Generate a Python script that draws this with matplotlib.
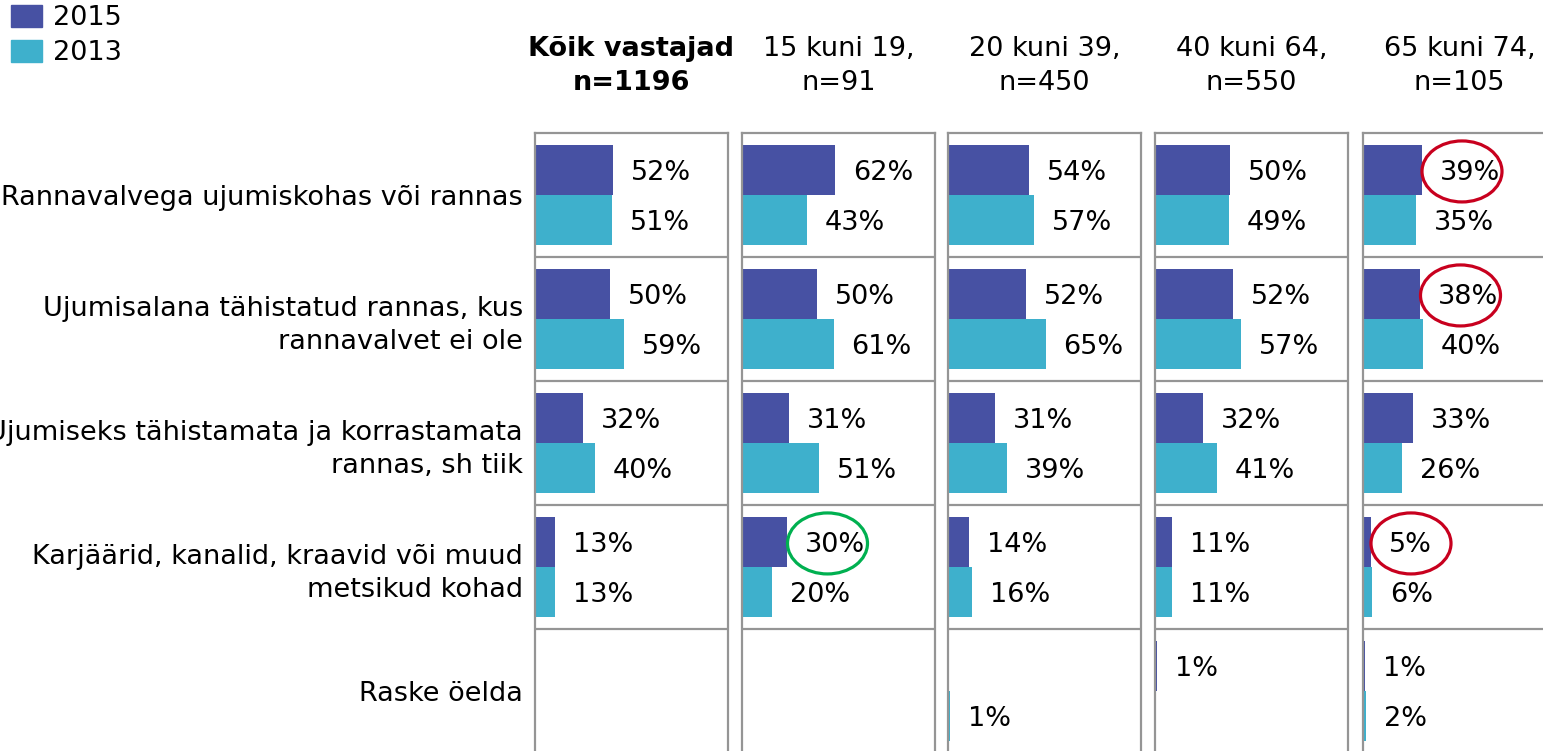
import matplotlib.pyplot as plt
from matplotlib.patches import Ellipse
from matplotlib.patches import Patch
import numpy as np

# ---- data ----
categories = [
    "Rannavalvega ujumiskohas või rannas",
    "Ujumisalana tähistatud rannas, kus\nrannavalvet ei ole",
    "Ujumiseks tähistamata ja korrastamata\nrannas, sh tiik",
    "Karjäärid, kanalid, kraavid või muud\nmetsikud kohad",
    "Raske öelda",
]
groups = ["Kõik vastajad\nn=1196", "15 kuni 19,\nn=91", "20 kuni 39,\nn=450",
          "40 kuni 64,\nn=550", "65 kuni 74,\nn=105"]
series = ["2015", "2013"]

nan = np.nan
values_2015 = [
    [52, 50, 32, 13, nan],
    [62, 50, 31, 30, nan],
    [54, 52, 31, 14, nan],
    [50, 52, 32, 11, 1],
    [39, 38, 33, 5, 1],
]
values_2013 = [
    [51, 59, 40, 13, nan],
    [43, 61, 51, 20, nan],
    [57, 65, 39, 16, 1],
    [49, 57, 41, 11, nan],
    [35, 40, 26, 6, 2],
]
# highlighted 2015 labels: (group index, category index, colour)
highlights = [(1, 3, "#00b050"), (4, 0, "#c8001e"), (4, 1, "#c8001e"), (4, 3, "#c8001e")]

col_2015 = "#4751a3"
col_2013 = "#3eb0cc"
grid_col = "#959595"
fs = 19.5

plt.rcParams["font.family"] = "DejaVu Sans"
fig = plt.figure(figsize=(15.43, 7.51), dpi=100)
W, H = 1543, 751

lefts = [535, 742, 948, 1155, 1363]
panel_w = 193
top_px = 133
row_px = 124
n = len(categories)
xmax = panel_w / 1.5  # 1.5 px per percent

axes = []
for gi, lx in enumerate(lefts):
    ax = fig.add_axes([lx / W, (H - top_px - n * row_px) / H, panel_w / W, n * row_px / H])
    axes.append(ax)
    ax.set_xlim(0, xmax)
    ax.set_ylim(n, 0)
    rows = np.arange(n)
    ax.barh(rows + 0.3, values_2015[gi], height=0.4, color=col_2015, label=series[0])
    ax.barh(rows + 0.7, values_2013[gi], height=0.4, color=col_2013, label=series[1])
    for ri in range(n):
        for v, yy in ((values_2015[gi][ri], ri + 0.3), (values_2013[gi][ri], ri + 0.7)):
            if np.isnan(v):
                continue
            ax.annotate(f"{v:g}%", xy=(v, yy), xytext=(13, 0), textcoords="offset points",
                        ha="left", va="center_baseline", fontsize=fs, color="black")
    for yl in range(1, n):
        ax.axhline(yl, color=grid_col, lw=1.6, zorder=0)
    for s in ax.spines.values():
        s.set_color(grid_col)
        s.set_linewidth(1.6)
    ax.set_xticks([])
    ax.tick_params(axis="y", length=0, pad=8.6, labelsize=fs)
    if gi == 0:
        ax.set_yticks(rows + 0.5, categories)
        for lbl in ax.get_yticklabels():
            lbl.set_linespacing(1.37)
    else:
        ax.set_yticks([])
    ax.text(0.5, 1 + (top_px - 66) / (n * row_px), groups[gi], transform=ax.transAxes,
            ha="center", va="center", fontsize=fs, linespacing=1.37,
            fontweight="bold" if gi == 0 else "normal")

# circled labels
for gi, ri, c in highlights:
    v = values_2015[gi][ri]
    e = Ellipse((v + 27, ri + 0.31), width=80 / 1.5, height=61 / row_px,
                fill=False, edgecolor=c, lw=2.3, clip_on=False, zorder=5)
    axes[gi].add_patch(e)

handles = [Patch(color=col_2015, label=series[0]), Patch(color=col_2013, label=series[1])]
fig.legend(handles=handles, loc="upper left", bbox_to_anchor=(11 / W, 1 - 5 / H),
           frameon=False, fontsize=fs, borderpad=0, borderaxespad=0,
           handlelength=1.15, handleheight=0.88, handletextpad=0.4, labelspacing=0.3)

fig.savefig("out.png", dpi=100)
